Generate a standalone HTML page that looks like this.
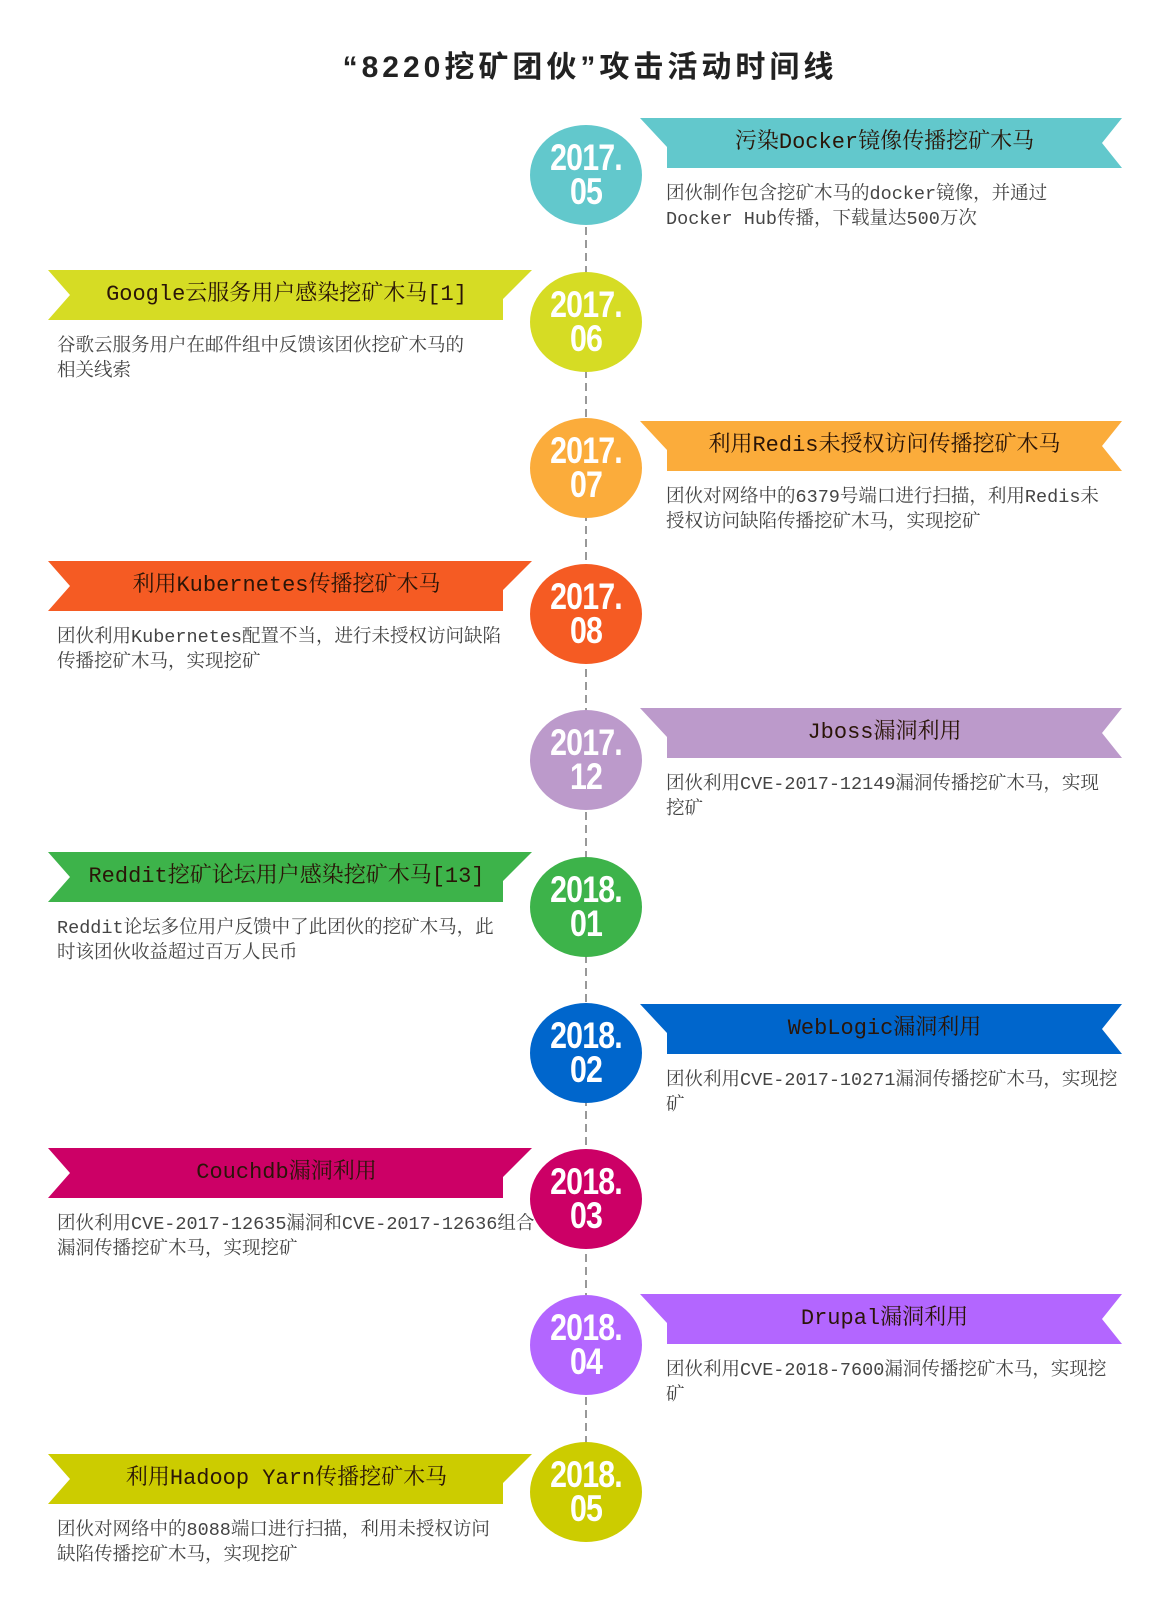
<!DOCTYPE html>
<html><head><meta charset="utf-8">
<style>
html,body{margin:0;padding:0;background:#fff;}
#root{position:relative;width:1156px;height:1612px;overflow:hidden;background:#fff;}
.title{position:absolute;left:0;width:1180px;top:42px;text-align:center;font:bold 30px "Liberation Sans","Noto Sans CJK SC",sans-serif;color:#222;letter-spacing:4px;}
.rt{position:absolute;height:50px;line-height:50px;text-align:center;font-size:22px;color:#2a1508;white-space:nowrap;font-family:"Liberation Mono","Noto Serif CJK SC",serif;}
.desc{position:absolute;font-size:18.5px;line-height:25px;color:#444;white-space:nowrap;font-family:"Liberation Mono","Noto Serif CJK SC",serif;}
.date{position:absolute;width:112px;text-align:center;color:#fff;font-family:"Liberation Sans",sans-serif;font-weight:bold;font-size:37px;line-height:34px;transform:scaleX(0.82);letter-spacing:-1px;}
</style></head>
<body>
<div id="root">
<div class="title">“8220挖矿团伙”攻击活动时间线</div>
<svg id="svg" width="1156" height="1612" style="position:absolute;left:0;top:0"></svg>
</div>
<script>
const dates = ["2017.05","2017.06","2017.07","2017.08","2017.12","2018.01","2018.02","2018.03","2018.04","2018.05"];
const titles = ["污染Docker镜像传播挖矿木马","Google云服务用户感染挖矿木马[1]","利用Redis未授权访问传播挖矿木马","利用Kubernetes传播挖矿木马","Jboss漏洞利用","Reddit挖矿论坛用户感染挖矿木马[13]","WebLogic漏洞利用","Couchdb漏洞利用","Drupal漏洞利用","利用Hadoop Yarn传播挖矿木马"];
const descs = [
["团伙制作包含挖矿木马的docker镜像，并通过","Docker Hub传播，下载量达500万次"],
["谷歌云服务用户在邮件组中反馈该团伙挖矿木马的","相关线索"],
["团伙对网络中的6379号端口进行扫描，利用Redis未","授权访问缺陷传播挖矿木马，实现挖矿"],
["团伙利用Kubernetes配置不当，进行未授权访问缺陷","传播挖矿木马，实现挖矿"],
["团伙利用CVE-2017-12149漏洞传播挖矿木马，实现","挖矿"],
["Reddit论坛多位用户反馈中了此团伙的挖矿木马，此","时该团伙收益超过百万人民币"],
["团伙利用CVE-2017-10271漏洞传播挖矿木马，实现挖","矿"],
["团伙利用CVE-2017-12635漏洞和CVE-2017-12636组合","漏洞传播挖矿木马，实现挖矿"],
["团伙利用CVE-2018-7600漏洞传播挖矿木马，实现挖","矿"],
["团伙对网络中的8088端口进行扫描，利用未授权访问","缺陷传播挖矿木马，实现挖矿"]];
const colors = ["#62c8cc","#d6dc24","#fbac3b","#f55b23","#bc9acb","#3db34a","#0066cc","#cc0066","#b366ff","#cccc00"];
const circleY = [175,322,468,614,760,907,1053,1199,1345,1492];
const ribbonTop = [118,270,421,561,708,852,1004,1148,1294,1454];

const NS="http://www.w3.org/2000/svg";
const svg=document.getElementById('svg');
const root=document.getElementById('root');
const CX=586;
const line=document.createElementNS(NS,'line');
line.setAttribute('x1',CX);line.setAttribute('x2',CX);
line.setAttribute('y1',circleY[0]);line.setAttribute('y2',circleY[circleY.length-1]);
line.setAttribute('stroke','#999');line.setAttribute('stroke-width','2');line.setAttribute('stroke-dasharray','8 5');


svg.appendChild(line);

dates.forEach((d,i)=>{
  const right = i%2===0;
  const t=ribbonTop[i], b=t+50, col=colors[i];
  let pts;
  if(right){
    pts=[[640,t],[1122,t],[1102,t+25],[1122,b],[667,b],[667,t+29]];
  } else {
    pts=[[48,t],[532,t],[503,t+29],[503,b],[48,b],[70,t+25]];
  }
  const poly=document.createElementNS(NS,'polygon');
  poly.setAttribute('points',pts.map(p=>p.join(',')).join(' '));
  poly.setAttribute('fill',col);
  
  
  svg.appendChild(poly);

  const c=document.createElementNS(NS,'ellipse');
  c.setAttribute('cx',CX);c.setAttribute('cy',circleY[i]);c.setAttribute('rx',56);c.setAttribute('ry',50);
  c.setAttribute('fill',col);
  
  
  svg.appendChild(c);

  const dt=document.createElement('div');
  dt.className='date';
  dt.style.left=(CX-56)+'px';dt.style.top=(circleY[i]-34)+'px';
  dt.innerHTML=d.slice(0,5)+'<br>'+d.slice(5);
  
  
  root.appendChild(dt);

  const tt=document.createElement('div');
  tt.className='rt';
  tt.style.top=t+'px';
  if(right){tt.style.left='667px';tt.style.width='435px';}
  else{tt.style.left='70px';tt.style.width='433px';}
  tt.textContent=titles[i];
  
  
  root.appendChild(tt);

  const ds=document.createElement('div');
  ds.className='desc';
  ds.style.top=(b+14)+'px';
  ds.style.left=(right?666:57)+'px';
  ds.innerHTML=descs[i].join('<br>');
  
  
  root.appendChild(ds);
});
</script>
</body></html>
